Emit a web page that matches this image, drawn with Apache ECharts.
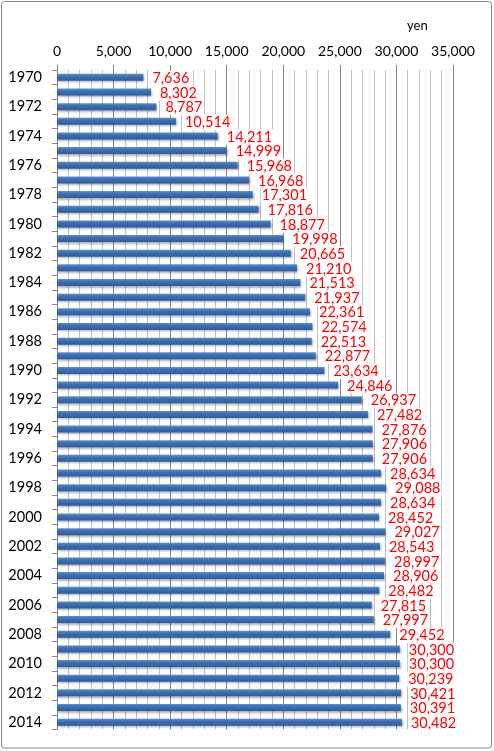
<!DOCTYPE html>
<html>
<head>
<meta charset="utf-8">
<script src="https://cdn.jsdelivr.net/npm/echarts@6/dist/echarts.min.js"></script>
<style>
html,body{margin:0;padding:0;background:#fff;}
#c{width:494px;height:751px;}
</style>
</head>
<body>
<div id="c"></div>
<script>
const years = ['1970','1971','1972','1973','1974','1975','1976','1977','1978','1979',
  '1980','1981','1982','1983','1984','1985','1986','1987','1988','1989',
  '1990','1991','1992','1993','1994','1995','1996','1997','1998','1999',
  '2000','2001','2002','2003','2004','2005','2006','2007','2008','2009',
  '2010','2011','2012','2013','2014'];
const values = [7636,8302,8787,10514,14211,14999,15968,16968,17301,17816,
  18877,19998,20665,21210,21513,21937,22361,22574,22513,22877,
  23634,24846,26937,27482,27876,27906,27906,28634,29088,28634,
  28452,29027,28543,28997,28906,28482,27815,27997,29452,30300,
  30300,30239,30421,30391,30482];
const unitLabel = 'yen';

const chart = echarts.init(document.getElementById('c'), null, {renderer:'canvas'});
const fmt = v => v.toLocaleString('en-US');
chart.setOption({
  animation:false,
  backgroundColor:'#fff',
  grid:{left:57,right:41,top:70,bottom:21.5,containLabel:false},
  graphic:[
    {type:'rect',shape:{x:1.5,y:1.5,width:490,height:746.5,r:3},style:{fill:'none',stroke:'#868686',lineWidth:1},silent:true},
    {type:'text',left:407,top:19,style:{text:unitLabel,font:'13px Lato',fill:'#000'}}
  ],
  xAxis:{
    type:'value',position:'top',min:0,max:35000,interval:5000,
    axisLine:{show:false},
    axisTick:{show:true,length:5,lineStyle:{color:'#868686'}},
    axisLabel:{margin:12,color:'#000',fontFamily:'Lato',fontSize:14,formatter:v=>fmt(v)},
    splitLine:{show:true,lineStyle:{color:'#868686',width:1}},
    minorTick:{show:false,splitNumber:5},
    minorSplitLine:{show:true,lineStyle:{color:'#c0c0c0',width:1}}
  },
  yAxis:{
    type:'category',data:years,inverse:true,
    axisLine:{show:true,lineStyle:{color:'#868686'}},
    axisTick:{show:true,length:5,interval:0,lineStyle:{color:'#868686'}},
    axisLabel:{interval:1,margin:15,color:'#000',fontFamily:'Lato',fontSize:14.5}
  },
  series:[{
    type:'bar',data:values,barWidth:7,
    itemStyle:{
      color:new echarts.graphic.LinearGradient(0,0,0,1,[
        {offset:0,color:'#5f90d2'},{offset:0.35,color:'#3b71b8'},{offset:1,color:'#2d5c9c'}
      ]),
      shadowColor:'rgba(0,0,0,0.3)',shadowBlur:2,shadowOffsetY:1.5,shadowOffsetX:1
    },
    label:{
      show:true,position:'right',distance:8,offset:[0,1],
      color:'#ff0000',fontFamily:'Lato',fontSize:14.5,
      backgroundColor:'#fff',padding:[0,1],
      formatter:p=>fmt(p.value)
    }
  }]
});
</script>
</body>
</html>
